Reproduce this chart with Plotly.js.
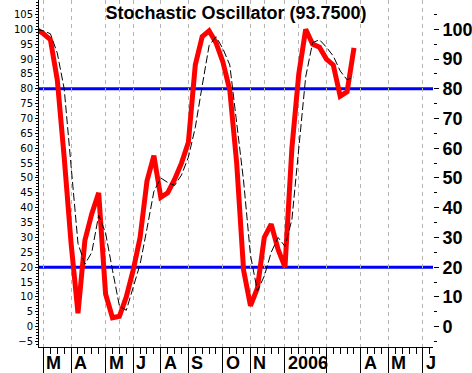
<!DOCTYPE html>
<html><head><meta charset="utf-8">
<script src="https://cdn.plot.ly/plotly-3.0.1.min.js"></script>
<style>html,body{margin:0;padding:0;background:#fff;overflow:hidden}#chart{width:472px;height:373px}</style>
</head><body><div id="chart"></div>
<script>
// weekly index of each data point
const weeks = [0,1,2,3,4,5,6,7,8,9,10,11,12,13,14,15,16,17,18,19,20,21,22,23,24,25,26,27,28,29,30,31,32,33,34,35,36,37,38,39,40,41,42,43,44,45,46];
// %K (thick red)
const percentK = [100,98.5,96.5,83,57,28,4.5,29,38,45,
                  11,3,3.5,10,19,30,49,57.5,43.5,45,
                  49.5,55,62,88,97.5,99.5,95.5,89,79.5,55,
                  19,7,13,30,34.5,26,20,60,85,100,
                  95,94,90,88,77.5,79,93.75];
// %D signal (thin dashed black)
const percentD = [100,99.5,98.5,92,80,55,28,21,25,37.5,
                  31.5,19,7,5.5,13,21,33,45.5,50,48.5,
                  47.5,51,57,67,81,94.5,97.5,93.5,88,68,
                  49,24,12,17,25,30,27,36,60,84,
                  95.5,96.5,94,91,86,83,84];
// overbought / oversold levels
const levels = [20, 80];
// month boundary ticks and labels (week index)
const monthTicks = [1,5,10,14,18,22,27,31,36,42,47,51,56];
const monthLabelPos = [1,5,10,14,18,22,27,31,36,47,51,56];
const monthLabels = ['M','A','M','J','A','S','O','N','2006','A','M','J'];
// vertical dashed gridlines (week index)
const gridWeeks = [1,5,10,12,14,18,22,27,31,33,36,38,42,47,51,56];
// y tick values
const leftTicks = [-5,0,5,10,15,20,25,30,35,40,45,50,55,60,65,70,75,80,85,90,95,100,105];
const rightTicks = [0,10,20,30,40,50,60,70,80,90,100];
const rightMinor = [-5,5,15,25,35,45,55,65,75,85,95,105];

const xRange = [0.35, 57.45];
const yRange = [-6.83, 109.85];
const weeklyTicks = [];
for (let w = 1; w <= 57; w++) weeklyTicks.push(w);
const leftMinor = [];
for (let v = -6; v <= 109; v++) leftMinor.push(v);

const font = 'Liberation Sans, Arial, sans-serif';

const traces = [
  {x: weeks, y: percentK, type: 'scatter', mode: 'lines',
   line: {color: '#ff0000', width: 5}, hoverinfo: 'skip'},
  {x: weeks, y: percentD, type: 'scatter', mode: 'lines',
   line: {color: '#000000', width: 1, dash: '8px,3px'}, hoverinfo: 'skip'},
  {x: [null], y: [null], xaxis: 'x2', yaxis: 'y', type: 'scatter', mode: 'lines', hoverinfo: 'skip'},
  {x: [null], y: [null], xaxis: 'x', yaxis: 'y2', type: 'scatter', mode: 'lines', hoverinfo: 'skip'}
];

const layout = {
  width: 472, height: 373,
  margin: {l: 39, r: 39, t: 0, b: 26, pad: 0},
  paper_bgcolor: '#fff', plot_bgcolor: '#fff',
  showlegend: false,
  title: {text: 'Stochastic Oscillator (93.7500)', x: 0.5, xref: 'container', xanchor: 'center',
          y: 0.965, yref: 'container', yanchor: 'middle',
          font: {family: font, size: 18, color: '#000', weight: 700}},
  xaxis: {range: xRange, tickmode: 'array', tickvals: gridWeeks, ticks: '', showticklabels: false,
          showgrid: true, gridcolor: '#b4b4b4', griddash: '4px,4px', gridwidth: 1,
          zeroline: false, showline: true, linecolor: '#000', linewidth: 1, fixedrange: true},
  xaxis2: {overlaying: 'x', anchor: 'y', side: 'bottom', range: xRange,
           tickmode: 'array', tickvals: monthTicks, ticks: 'outside', ticklen: 26, tickcolor: '#000', tickwidth: 1,
           showticklabels: false, showgrid: false, zeroline: false, showline: false,
           minor: {tickmode: 'array', tickvals: weeklyTicks, ticks: 'outside', ticklen: 6, tickcolor: '#000', tickwidth: 1, showgrid: false},
           fixedrange: true},
  yaxis: {range: yRange, tickmode: 'array', tickvals: leftTicks, ticks: 'outside', ticklen: 3, tickcolor: '#000',
          tickfont: {family: 'DejaVu Sans, sans-serif', size: 10, color: '#000'},
          showgrid: false, zeroline: false, showline: true, linecolor: '#000', linewidth: 1,
          minor: {tickmode: 'array', tickvals: leftMinor, ticks: 'outside', ticklen: 2, tickcolor: '#000', showgrid: false},
          fixedrange: true},
  yaxis2: {overlaying: 'y', anchor: 'x', side: 'right', range: yRange,
           tickmode: 'array', tickvals: rightTicks, ticks: 'outside', ticklen: 5, tickcolor: '#000',
           tickfont: {family: font, size: 18, color: '#000', weight: 700},
           minor: {tickmode: 'array', tickvals: rightMinor, ticks: 'outside', ticklen: 3, tickcolor: '#000', showgrid: false},
           showgrid: false, zeroline: false, showline: false, fixedrange: true},
  shapes: levels.map(v => ({type: 'line', xref: 'paper', x0: 0, x1: 1, yref: 'y', y0: v, y1: v,
                            line: {color: '#0000ff', width: 3}, layer: 'between'})),
  annotations: monthLabels.map((t, i) => ({text: t, x: monthLabelPos[i], xref: 'x', y: 0, yref: 'paper',
                            xanchor: 'left', yanchor: 'middle', yshift: -16, xshift: 1, showarrow: false,
                            font: {family: font, size: 18, color: '#000', weight: 700}}))
};

Plotly.newPlot('chart', traces, layout, {displayModeBar: false, staticPlot: true});
</script></body></html>
